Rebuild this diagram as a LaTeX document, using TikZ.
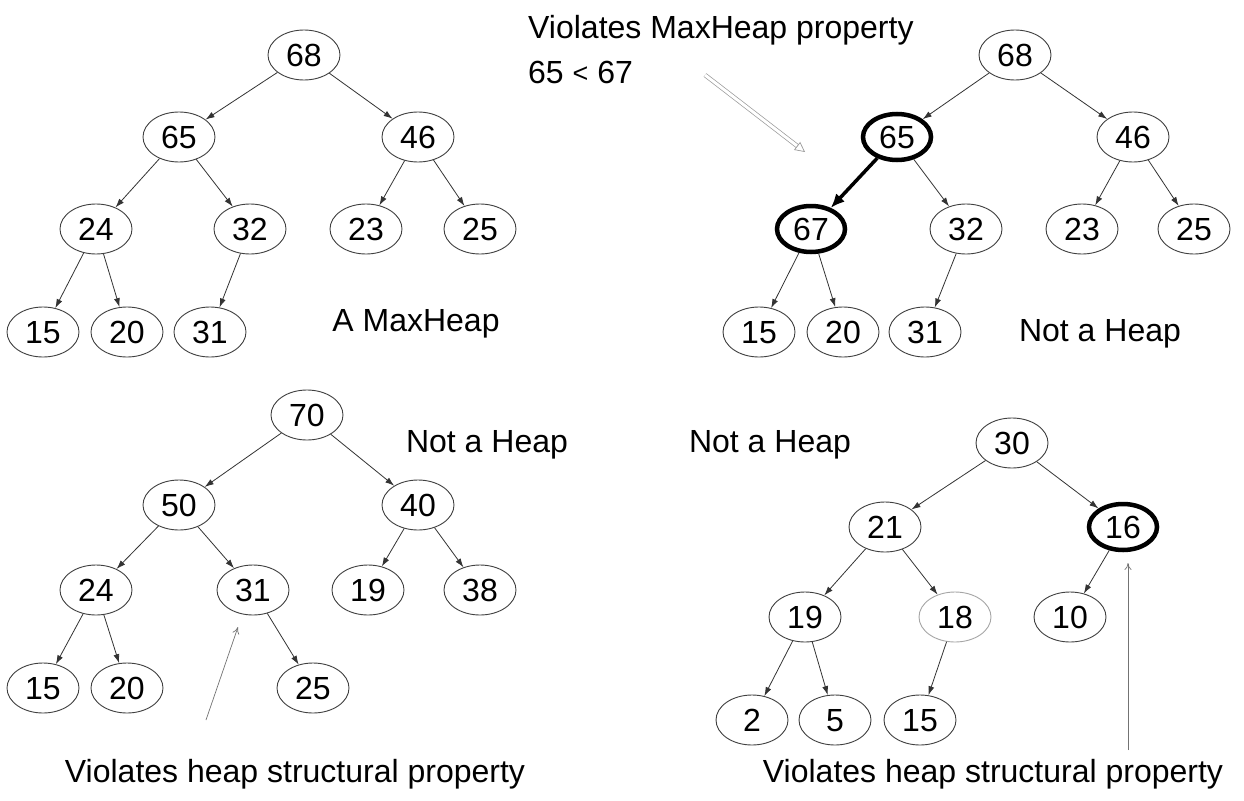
\documentclass[tikz,border=0pt]{standalone}
\usepackage{fontspec}
\setmainfont{Liberation Sans}
\usetikzlibrary{shapes.geometric,arrows.meta}
\begin{document}
\begin{tikzpicture}[x=1pt,y=-1pt,
  every node/.style={font=\fontsize{32}{36}\selectfont},
  nd/.style={ellipse,draw=black!75,line width=0.9pt,minimum width=72pt,minimum height=50pt,inner sep=0pt,text height=23pt,text depth=0pt},
  thk/.style={nd,draw=black,line width=4.5pt,minimum width=68pt,minimum height=46pt},
  faint/.style={nd,draw=black!35},
  lbl/.style={inner sep=0pt},
  edge/.style={draw=black!80,line width=0.8pt,-{Latex[length=9pt,width=6pt]}},
  thkedge/.style={draw=black,line width=3.5pt,-{Latex[length=14pt,width=12pt]}},
  note/.style={draw=black!55,line width=0.7pt,-{To[length=7pt,width=7pt]}}
]
\useasboundingbox[fill=white] (0,0) rectangle (1244,800);

% ---------- Tree 1: A MaxHeap ----------
\node[nd] (a68) at (304,55) {68};
\node[nd] (a65) at (179,137) {65};
\node[nd] (a46) at (418,137) {46};
\node[nd] (a24) at (96,229) {24};
\node[nd] (a32) at (250,229) {32};
\node[nd] (a23) at (366,229) {23};
\node[nd] (a25) at (480,229) {25};
\node[nd] (a15) at (43,332) {15};
\node[nd] (a20) at (127,332) {20};
\node[nd] (a31) at (210,332) {31};
\node[lbl] (alab) at (416,324) {A MaxHeap};
\draw[edge] (a68) -- (a65);
\draw[edge] (a68) -- (a46);
\draw[edge] (a65) -- (a24);
\draw[edge] (a65) -- (a32);
\draw[edge] (a46) -- (a23);
\draw[edge] (a46) -- (a25);
\draw[edge] (a24) -- (a15);
\draw[edge] (a24) -- (a20);
\draw[edge] (a32) -- (a31);

% ---------- Tree 2: violates MaxHeap property ----------
\node[nd] (b68) at (1015,55) {68};
\node[thk] (b65) at (897,137) {65};
\node[nd] (b46) at (1133,137) {46};
\node[thk] (b67) at (811,229) {67};
\node[nd] (b32) at (966,229) {32};
\node[nd] (b23) at (1082,229) {23};
\node[nd] (b25) at (1194,229) {25};
\node[nd] (b15) at (759,332) {15};
\node[nd] (b20) at (843,332) {20};
\node[nd] (b31) at (925,332) {31};
\node[lbl] (blab) at (1100,334) {Not a Heap};
\node[lbl,anchor=west] (bviol) at (528,30) {Violates MaxHeap property};
\node[lbl,anchor=west] (bcmp) at (528,72) {65 {\fontsize{27}{30}\selectfont\raisebox{1pt}{<}} 67};
\coordinate (bfrom) at (705,75);
\coordinate (bto) at (805,152);
\draw[draw=black!40,double=white,double distance=3pt,line width=0.7pt,-{Triangle[open,length=10pt,width=10pt]}] (bfrom) -- (bto);
\draw[edge] (b68) -- (b65);
\draw[edge] (b68) -- (b46);
\draw[thkedge] (b65) -- (b67);
\draw[edge] (b65) -- (b32);
\draw[edge] (b46) -- (b23);
\draw[edge] (b46) -- (b25);
\draw[edge] (b67) -- (b15);
\draw[edge] (b67) -- (b20);
\draw[edge] (b32) -- (b31);

% ---------- Tree 3: violates structural property ----------
\node[nd] (c70) at (307,415) {70};
\node[nd] (c50) at (179,505) {50};
\node[nd] (c40) at (418,505) {40};
\node[nd] (c24) at (96,590) {24};
\node[nd] (c31) at (253,590) {31};
\node[nd] (c19) at (368,590) {19};
\node[nd] (c38) at (480,590) {38};
\node[nd] (c15) at (43,688) {15};
\node[nd] (c20) at (127,688) {20};
\node[nd] (c25) at (313,688) {25};
\node[lbl] (clab) at (487,445) {Not a Heap};
\node[lbl] (cviol) at (295,774) {Violates heap structural property};
\coordinate (cfrom) at (206,720);
\coordinate (cto) at (238,627);
\draw[note] (cfrom) -- (cto);
\draw[edge] (c70) -- (c50);
\draw[edge] (c70) -- (c40);
\draw[edge] (c50) -- (c24);
\draw[edge] (c50) -- (c31);
\draw[edge] (c40) -- (c19);
\draw[edge] (c40) -- (c38);
\draw[edge] (c24) -- (c15);
\draw[edge] (c24) -- (c20);
\draw[edge] (c31) -- (c25);

% ---------- Tree 4: violates structural property ----------
\node[nd] (d30) at (1012,443) {30};
\node[nd] (d21) at (885,527) {21};
\node[thk] (d16) at (1123,527) {16};
\node[nd] (d19) at (805,617) {19};
\node[faint] (d18) at (955,617) {18};
\node[nd] (d10) at (1070,617) {10};
\node[nd] (d2) at (752,720) {2};
\node[nd] (d5) at (835,720) {5};
\node[nd] (d15) at (920,720) {15};
\node[lbl] (dlab) at (770,445) {Not a Heap};
\node[lbl] (dviol) at (993,774) {Violates heap structural property};
\coordinate (dfrom) at (1128,750);
\coordinate (dto) at (1128,563);
\draw[note] (dfrom) -- (dto);
\draw[edge] (d30) -- (d21);
\draw[edge] (d30) -- (d16);
\draw[edge] (d21) -- (d19);
\draw[edge] (d21) -- (d18);
\draw[edge] (d16) -- (d10);
\draw[edge] (d19) -- (d2);
\draw[edge] (d19) -- (d5);
\draw[edge] (d18) -- (d15);
\end{tikzpicture}
\end{document}
